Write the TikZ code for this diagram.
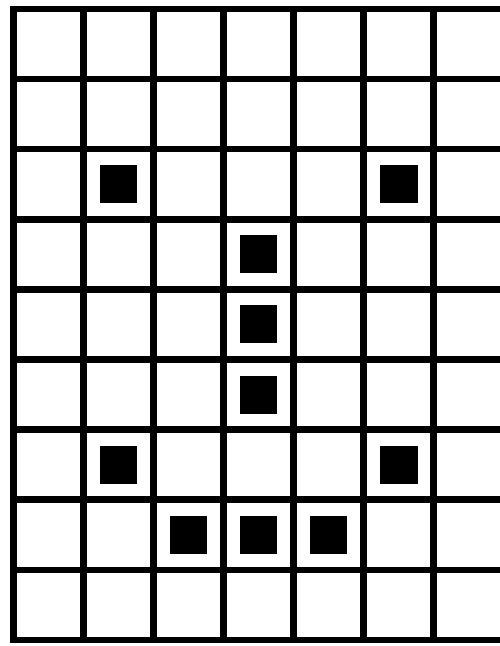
\documentclass[tikz,border=0pt]{standalone}
\usepackage{tikz}
\usetikzlibrary{positioning}

\begin{document}
\begin{tikzpicture}[x=0.02cm, y=-0.02cm,
    gridline/.style={line width=3.7pt, black, line cap=rect},
    filled/.style={rectangle, fill=black, minimum size=0.76cm, inner sep=0pt}
  ]
    \useasboundingbox (0,0) rectangle (500,646);
    % grid lines
    \foreach \c in {0,...,6}
      \draw[gridline] (13.5+70*\c,9) -- (13.5+70*\c,640);
    \foreach \r in {0,...,9}
      \draw[gridline] (13.5,9+70.1*\r) -- (500,9+70.1*\r);
    % filled cells (column, row)
    \foreach \c/\r [count=\i] in {1/2, 5/2, 3/3, 3/4, 3/5, 1/6, 5/6, 2/7, 3/7, 4/7}
      \node[filled] (sq\i) at (48.5+70*\c, 44+70.1*\r) {};
  \end{tikzpicture}
\end{document}
